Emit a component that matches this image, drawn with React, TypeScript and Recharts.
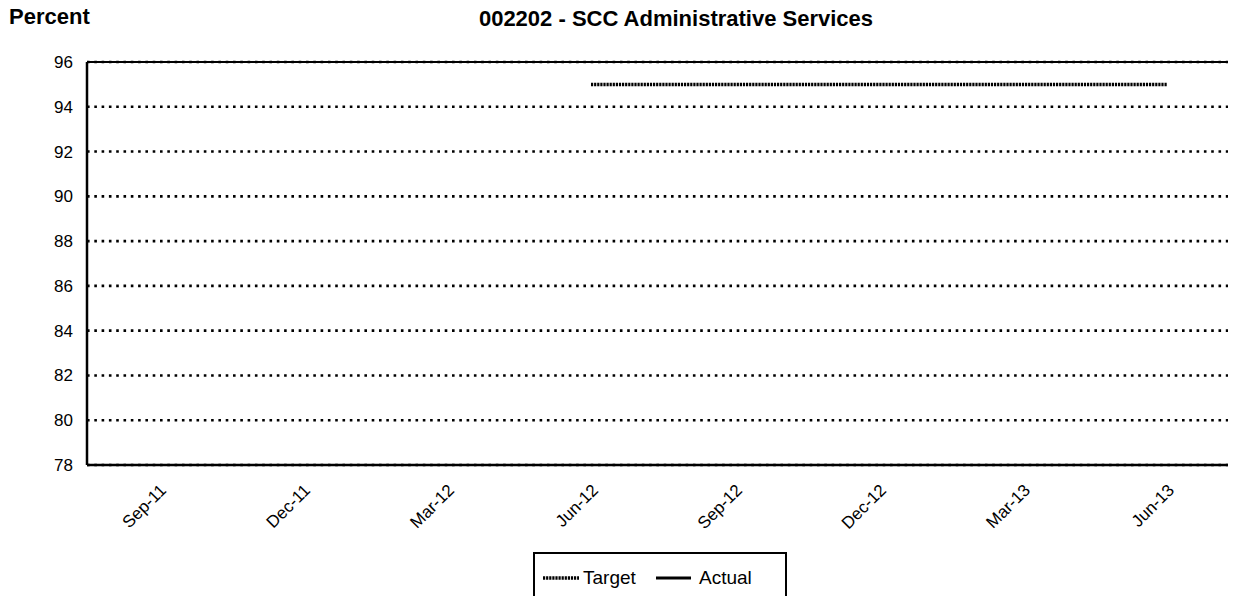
import React from 'react';
import { LineChart, Line, XAxis, YAxis, CartesianGrid, ReferenceLine, Legend } from 'recharts';

// Monthly categories across the two-year reporting window
const months = [
  'Aug-11', 'Sep-11', 'Oct-11', 'Nov-11', 'Dec-11', 'Jan-12', 'Feb-12', 'Mar-12',
  'Apr-12', 'May-12', 'Jun-12', 'Jul-12', 'Aug-12', 'Sep-12', 'Oct-12', 'Nov-12',
  'Dec-12', 'Jan-13', 'Feb-13', 'Mar-13', 'Apr-13', 'May-13', 'Jun-13', 'Jul-13',
];

// Target percentage (set from Jun-12 through Jun-13)
const targetValues: (number | null)[] = [
  null, null, null, null, null, null, null, null,
  null, null, 95, 95, 95, 95, 95, 95,
  95, 95, 95, 95, 95, 95, 95, null,
];

// Actual percentage (no results reported yet)
const actualValues: (number | null)[] = [
  null, null, null, null, null, null, null, null,
  null, null, null, null, null, null, null, null,
  null, null, null, null, null, null, null, null,
];

// Quarterly labels printed under the axis
const tickLabels = ['Sep-11', 'Dec-11', 'Mar-12', 'Jun-12', 'Sep-12', 'Dec-12', 'Mar-13', 'Jun-13'];

const yTicks = [78, 80, 82, 84, 86, 88, 90, 92, 94, 96];

const data = months.map((month, i) => ({
  month,
  target: targetValues[i],
  actual: actualValues[i],
}));

const FONT = '"Liberation Sans", Arial, Helvetica, sans-serif';

const MonthTick = (props: any) => {
  const { x, y, payload } = props;
  if (!tickLabels.includes(payload.value)) return null;
  const ax = x + 4;
  const ay = y + 14;
  return (
    <text
      x={ax}
      y={ay}
      dy="0.35em"
      textAnchor="end"
      transform={`rotate(-45, ${ax}, ${ay})`}
      fill="#000"
      fontSize={17}
      fontFamily={FONT}
    >
      {payload.value}
    </text>
  );
};

const LegendBox = () => (
  <div
    style={{
      position: 'relative',
      width: 254,
      height: 70,
      border: '2px solid #000',
      boxSizing: 'border-box',
      background: '#fff',
      fontFamily: FONT,
      fontSize: 19,
      color: '#000',
    }}
  >
    <svg style={{ position: 'absolute', left: 8, top: 21 }} width={38} height={6}>
      <line x1={0} x2={36} y1={3} y2={3} stroke="#000" strokeWidth={3.5} strokeDasharray="2.2 0.9" />
    </svg>
    <span style={{ position: 'absolute', left: 48, top: 14, lineHeight: '19px', whiteSpace: 'nowrap' }}>Target</span>
    <svg style={{ position: 'absolute', left: 121, top: 21 }} width={38} height={6}>
      <line x1={0} x2={35} y1={3} y2={3} stroke="#000" strokeWidth={3} />
    </svg>
    <span style={{ position: 'absolute', left: 164, top: 14, lineHeight: '19px', whiteSpace: 'nowrap' }}>Actual</span>
  </div>
);

const headingStyle: React.CSSProperties = {
  position: 'absolute',
  fontFamily: FONT,
  fontWeight: 'bold',
  fontSize: 22,
  lineHeight: '22px',
  whiteSpace: 'nowrap',
  color: '#000',
};

export default function App() {
  return (
    <div style={{ position: 'relative', width: 1228, height: 596, marginBottom: -8 }}>
      <div style={{ position: 'absolute', left: 0, top: 0, width: 1228, height: 596, overflow: 'hidden', background: '#fff' }}>
        <LineChart
          width={1231}
          height={596}
          data={data}
          margin={{ top: 54, right: 0, bottom: 0, left: 0 }}
        >
          <CartesianGrid
            vertical={false}
            stroke="#000"
            strokeWidth={2.6}
            strokeDasharray="2.6 4.7"
          />
          <ReferenceLine y={96} stroke="#000" strokeWidth={2} />
          <XAxis
            dataKey="month"
            type="category"
            interval={0}
            padding={{ left: 24, right: 24 }}
            height={139}
            tickLine={false}
            axisLine={{ stroke: '#000', strokeWidth: 2.5 }}
            tick={<MonthTick />}
          />
          <YAxis
            type="number"
            domain={[78, 96]}
            ticks={yTicks}
            interval={0}
            width={79}
            tickLine={false}
            tickMargin={8}
            axisLine={{ stroke: '#000', strokeWidth: 2.5 }}
            tick={{ fill: '#000', fontSize: 17, fontFamily: FONT }}
            allowDataOverflow
          />
          <Legend
            layout="horizontal"
            verticalAlign="middle"
            align="center"
            wrapperStyle={{ left: 525, top: 544, width: 254, height: 70 }}
            content={() => <LegendBox />}
          />
          <Line
            dataKey="target"
            name="Target"
            stroke="#000"
            strokeWidth={3.5}
            strokeDasharray="2.2 0.9"
            dot={false}
            activeDot={false}
            isAnimationActive={false}
          />
          <Line
            dataKey="actual"
            name="Actual"
            stroke="#000"
            strokeWidth={3}
            dot={false}
            activeDot={false}
            isAnimationActive={false}
          />
        </LineChart>
      </div>
      <div style={{ ...headingStyle, left: 1, top: -2 }}>Percent</div>
      <div style={{ ...headingStyle, left: 668, top: 0, transform: 'translateX(-50%)' }}>
        002202 - SCC Administrative Services
      </div>
    </div>
  );
}
